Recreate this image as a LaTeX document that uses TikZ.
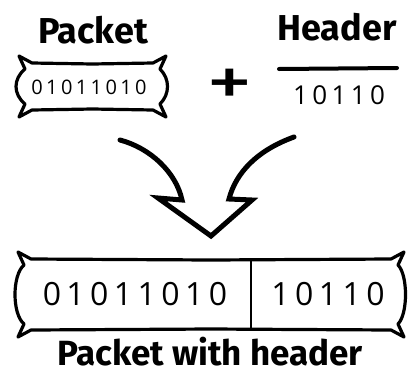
\documentclass[tikz,border=0pt]{standalone}
\usepackage{fontspec}
\setmainfont{Fira Sans}
\newfontfamily\bitfont[LetterSpace=17]{Open Sans}
\usepackage{tikz}
\usetikzlibrary{positioning}
\usetikzlibrary{calc}
\tikzstyle{title}=[font=\bfseries\fontsize{36}{40}\selectfont,anchor=base,inner sep=0pt]
\tikzstyle{bits}=[anchor=base,inner sep=0pt]
\tikzstyle{scroll}=[line width=3.2pt,line join=round,line cap=round]
\tikzstyle{divider}=[line width=2pt]
\tikzstyle{bigarrow}=[line width=5pt,line join=miter,line cap=round]
% frame with flared corners: x1, y1 (top left), x2, y2 (bottom right)
\newcommand{\scrollframe}[4]{
\draw[scroll] ({#1-6},{#2-7}) -- ({#1+7},{#2}) -- ({(#1+#3)/2},{#2+1}) -- ({#3-7},{#2})
  -- ({#3+6},{#2-7}) -- ({#3},{#2+6})
  .. controls ({#3+10},{#2+16}) and ({#3+10},{#4-16}) .. ({#3},{#4-6})
  -- ({#3+6},{#4+7}) -- ({#3-7},{#4}) -- ({(#1+#3)/2},{#4-1}) -- ({#1+7},{#4})
  -- ({#1-6},{#4+7}) -- ({#1},{#4-6})
  .. controls ({#1-12},{#4-16}) and ({#1-12},{#2+16}) .. ({#1},{#2+6}) -- cycle;
}
\begin{document}
\begin{tikzpicture}[x=1pt,y=-1pt]
\useasboundingbox (0,0) rectangle (411,383);
% titles
\node[title] (ptitle) at (93,43) {Packet};
\node[title] (htitle) at (337,40) {Header};
\node[title,font=\bfseries\fontsize{35}{38}\selectfont] (wtitle) at (210,365) {Packet with header};
% packet
\scrollframe{25}{63}{160}{110}
\node[bits,font=\bitfont\fontsize{20}{22}\selectfont] (pbits) at (89,94) {01011010};
% plus and header
\node[font=\fontsize{72}{76}\selectfont,xscale=1.3] (plus) at (230,88) {+};
\coordinate (hleft) at (279,69);
\coordinate (hright) at (397,68);
\draw[line width=4pt,line cap=round] (hleft) -- (hright);
\node[bits,font=\bitfont\fontsize{26}{28}\selectfont] (hbits) at (339,104) {10110};
% arrow
\coordinate (lstart) at (120,140);
\coordinate (lend) at (182,200);
\coordinate (lback) at (158,198);
\coordinate (apex) at (211,236);
\coordinate (rback) at (252,200);
\coordinate (rend) at (229,199);
\coordinate (rstart) at (294,137);
\draw[bigarrow] (lstart) .. controls (150,148) and (176,172) .. (lend) -- (lback) -- (apex)
  -- (rback) -- (rend) .. controls (236,172) and (258,150) .. (rstart);
% packet with header
\scrollframe{24}{259}{398}{330}
\draw[divider] (251,260) -- (251,331);
\node[bits,font=\bitfont\fontsize{32}{34}\selectfont] (wbody) at (135,305) {01011010};
\node[bits,font=\bitfont\fontsize{32}{34}\selectfont] (whead) at (328,305) {10110};
\end{tikzpicture}
\end{document}
